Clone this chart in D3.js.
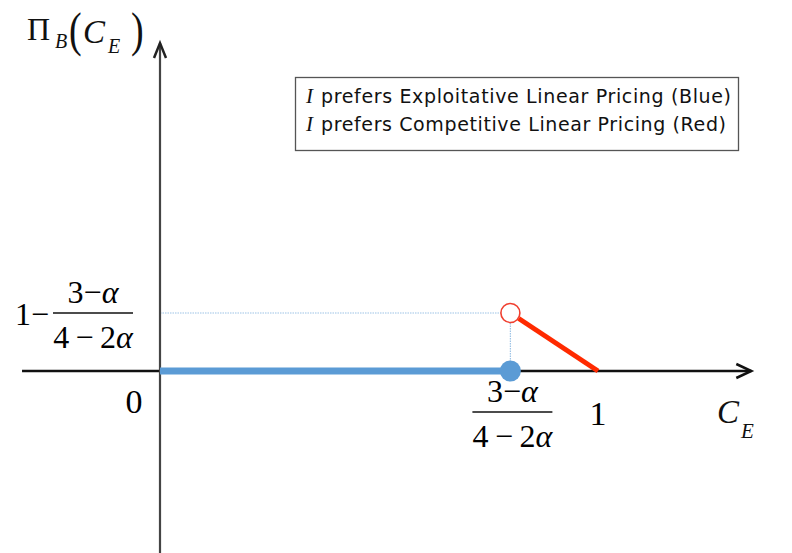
<!DOCTYPE html>
<html><head><meta charset="utf-8">
<script src="https://cdn.jsdelivr.net/npm/d3@7"></script>
<style>body{margin:0;background:#fff}svg{display:block}</style>
</head><body><svg id="c" width="792" height="553"></svg>
<script>
const alphaVal = 1/3;
const threshold = 0.8;          // (3-α)/(4-2α)
const level = 0.2;              // 1-(3-α)/(4-2α)
const blueSeries = [[0, 0], [0.8, 0]];
const redSeries = [[0.8, 0.2], [1, 0]];
const xTicks = [0, 0.8, 1];
const legendLabels = ["prefers Exploitative Linear Pricing (Blue)", "prefers Competitive Linear Pricing (Red)"];

const svg = d3.select("#c");
const x = d3.scaleLinear().domain([0, 1]).range([160, 598]);
const y = d3.scaleLinear().domain([0, 0.2]).range([371, 313]);
const serif = "'Liberation Serif','Times New Roman',serif";

// guides
svg.append("line").attr("x1", x(0)).attr("x2", x(threshold)).attr("y1", y(level)).attr("y2", y(level))
  .attr("stroke", "#9dc3e6").attr("stroke-width", 1.2).attr("stroke-dasharray", "1.5,1");
svg.append("line").attr("x1", x(threshold)).attr("x2", x(threshold)).attr("y1", y(level)).attr("y2", y(0))
  .attr("stroke", "#9dc3e6").attr("stroke-width", 1.2).attr("stroke-dasharray", "1.5,1");

// axes
const axCol = "#111";
svg.append("line").attr("x1", x(-0.315)).attr("x2", x(1.35)).attr("y1", y(0)).attr("y2", y(0)).attr("stroke", axCol).attr("stroke-width", 2.5);
svg.append("path").attr("d", `M${x(1.35)-15},${y(0)-7}L${x(1.35)},${y(0)}L${x(1.35)-15},${y(0)+7}`).attr("fill", "none").attr("stroke", axCol).attr("stroke-width", 2.5);
svg.append("line").attr("x1", x(0)).attr("x2", x(0)).attr("y1", 553).attr("y2", 43).attr("stroke", "#444").attr("stroke-width", 2.2);
svg.append("path").attr("d", `M${x(0)-6},58L${x(0)},43L${x(0)+6},58`).attr("fill", "none").attr("stroke", "#222").attr("stroke-width", 2.5);

// series
const line = d3.line().x(d => x(d[0])).y(d => y(d[1]));
svg.append("path").attr("d", line(blueSeries)).attr("stroke", "#5b9bd5").attr("stroke-width", 7).attr("fill", "none");
const p0 = [x(redSeries[0][0]), y(redSeries[0][1])], p1 = [x(redSeries[1][0]), y(redSeries[1][1])];
const len = Math.hypot(p1[0]-p0[0], p1[1]-p0[1]);
const r = 10;
svg.append("line").attr("x1", p0[0] + (p1[0]-p0[0])/len*r).attr("y1", p0[1] + (p1[1]-p0[1])/len*r)
  .attr("x2", p1[0]).attr("y2", p1[1]).attr("stroke", "#ff2a00").attr("stroke-width", 5);
svg.append("circle").attr("cx", x(blueSeries[1][0])).attr("cy", y(blueSeries[1][1])).attr("r", 10.5).attr("fill", "#5b9bd5");
svg.append("circle").attr("cx", p0[0]).attr("cy", p0[1]).attr("r", 9.5).attr("fill", "#fff").attr("stroke", "#f04030").attr("stroke-width", 1.6);

// tick labels
svg.append("text").attr("x", x(0) - 26).attr("y", 413).attr("text-anchor", "middle").attr("font-family", serif).attr("font-size", 34).text("0");
svg.append("text").attr("x", x(1)).attr("y", 425).attr("text-anchor", "middle").attr("font-family", serif).attr("font-size", 34).text("1");

function frac(cx, cy) {
  const g = svg.append("g").attr("font-family", serif).attr("font-size", 32);
  const n = g.append("text").attr("x", cx).attr("y", cy - 10).attr("text-anchor", "middle");
  n.append("tspan").text("3\u2212"); n.append("tspan").attr("font-style", "italic").text("\u03b1");
  g.append("line").attr("x1", cx - 40).attr("x2", cx + 40).attr("y1", cy).attr("y2", cy).attr("stroke", "#111").attr("stroke-width", 1.5);
  const d = g.append("text").attr("x", cx).attr("y", cy + 35).attr("text-anchor", "middle");
  d.append("tspan").text("4\u2009\u2212\u20092"); d.append("tspan").attr("font-style", "italic").text("\u03b1");
}
frac(x(threshold) + 2, 412);
frac(93, y(level));
svg.append("text").attr("x", 15).attr("y", 325).attr("font-family", serif).attr("font-size", 32).text("1\u2212");

// axis titles
const txt = (xx, yy, s, t, it) => svg.append("text").attr("x", xx).attr("y", yy).attr("font-family", serif)
  .attr("font-size", s).attr("font-style", it ? "italic" : "normal").attr("fill", "#111").text(t);
txt(717, 423, 33, "C", true);
txt(741, 438, 21, "E", true);

txt(27, 40, 32, "\u03a0", false);
txt(55, 48, 20, "B", true);
const paren = (xx, t) => svg.append("text").attr("transform", `translate(${xx},45.5) scale(1,1.3)`)
  .attr("font-family", serif).attr("font-size", 38).attr("fill", "#111").text(t);
paren(69, "(");
txt(83, 43, 33, "C", true);
txt(108, 53, 20, "E", true);
paren(131, ")");

// legend
svg.append("rect").attr("x", 295.5).attr("y", 77.5).attr("width", 443).attr("height", 73).attr("fill", "#fff").attr("stroke", "#555").attr("stroke-width", 1.3);
const legW = [410, 405];
legendLabels.forEach((l, i) => {
  const yy = 103 + i * 28;
  svg.append("text").attr("x", 306).attr("y", yy).attr("font-family", serif).attr("font-style", "italic").attr("font-size", 21).attr("fill", "#111").text("I");
  svg.append("text").attr("x", 321).attr("y", yy).attr("font-size", 19).attr("font-family", "'DejaVu Sans','Noto Sans',sans-serif")
    .attr("fill", "#111").attr("textLength", legW[i]).attr("lengthAdjust", "spacing").text(l);
});
</script></body></html>
